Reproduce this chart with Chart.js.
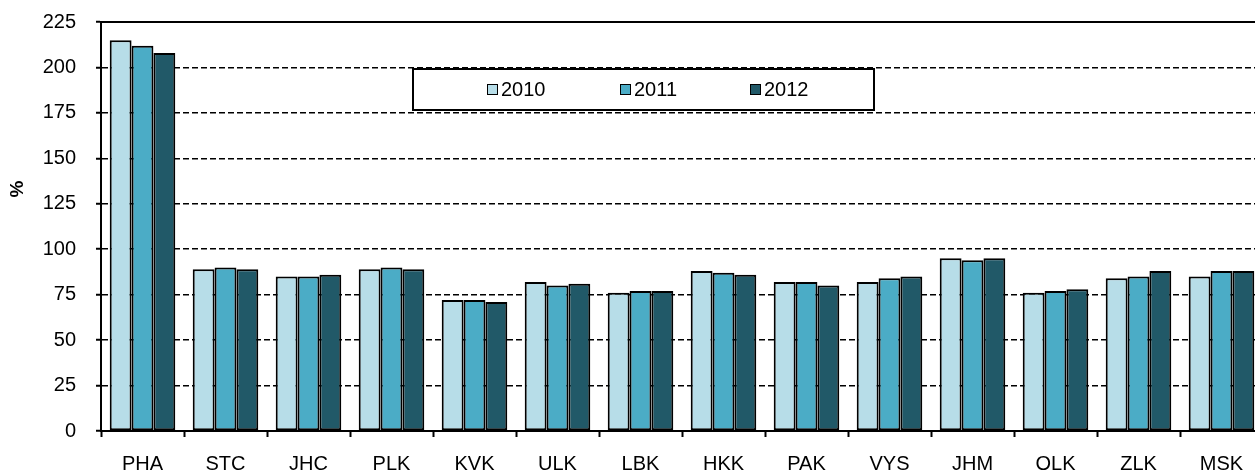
<!DOCTYPE html>
<html>
<head>
<meta charset="utf-8">
<script src="https://cdn.jsdelivr.net/npm/chart.js@4/dist/chart.umd.min.js"></script>
<style>
  html, body { margin: 0; padding: 0; background: #fff; overflow: hidden; }
  #wrap { position: relative; width: 1268px; height: 473px; overflow: hidden; }
  #c { position: absolute; left: 0; top: -10px; }
</style>
</head>
<body>
<div id="wrap"><canvas id="c" width="1268" height="483"></canvas></div>
<script>
const categories = ['PHA','STC','JHC','PLK','KVK','ULK','LBK','HKK','PAK','VYS','JHM','OLK','ZLK','MSK'];
const seriesNames = ['2010','2011','2012'];
const values2010 = [215, 89, 85, 89, 72, 82, 76, 88, 82, 82, 95, 76, 84, 85];
const values2011 = [212, 90, 85, 90, 72, 80, 77, 87, 82, 84, 94, 77, 85, 88];
const values2012 = [208, 89, 86, 89, 71, 81, 77, 86, 80, 85, 95, 78, 88, 88];
const yTicks = [0, 25, 50, 75, 100, 125, 150, 175, 200, 225];
const yTitle = '%';

const colors = ['#B7DDE8', '#4BACC6', '#215968'];
const FONT = "'Liberation Sans', Arial, sans-serif";
const DY = 10; // canvas is shifted up by this many pixels

const decorPlugin = {
  id: 'decor',
  afterDraw(chart) {
    const ctx = chart.ctx;
    const ca = chart.chartArea;
    ctx.save();
    const yTop = chart.scales.y.getPixelForValue(yTicks[yTicks.length - 1]);
    ctx.strokeStyle = '#000';
    ctx.lineWidth = 2;
    ctx.setLineDash([]);
    ctx.beginPath();
    ctx.moveTo(ca.left, yTop);
    ctx.lineTo(ca.right, yTop);
    ctx.stroke();

    ctx.fillStyle = '#000';
    ctx.font = "bold 19px " + FONT;
    ctx.translate(18, 189 + DY);
    ctx.rotate(-Math.PI / 2);
    ctx.textAlign = 'center';
    ctx.textBaseline = 'middle';
    ctx.fillText(yTitle, 0, 0);
    ctx.restore();

    ctx.save();
    const bx = 413, by = 69 + DY, bw = 461, bh = 41;
    ctx.fillStyle = '#fff';
    ctx.fillRect(bx, by, bw, bh);
    ctx.strokeStyle = '#000';
    ctx.lineWidth = 2;
    ctx.strokeRect(bx, by, bw, bh);
    ctx.font = "20px " + FONT;
    ctx.textBaseline = 'middle';
    ctx.textAlign = 'left';
    const starts = [487, 620, 750];
    chart.data.datasets.forEach((ds, i) => {
      const sx = starts[i];
      ctx.fillStyle = ds.backgroundColor;
      ctx.fillRect(sx, 84 + DY, 10, 10);
      ctx.lineWidth = 1;
      ctx.strokeStyle = '#000';
      ctx.strokeRect(sx + 0.5, 84.5 + DY, 10, 10);
      ctx.fillStyle = '#000';
      ctx.fillText(ds.label, sx + 14, 90 + DY);
    });
    ctx.restore();
  }
};

new Chart(document.getElementById('c'), {
  type: 'bar',
  data: {
    labels: categories,
    datasets: [
      { label: seriesNames[0], data: values2010, backgroundColor: colors[0] },
      { label: seriesNames[1], data: values2011, backgroundColor: colors[1] },
      { label: seriesNames[2], data: values2012, backgroundColor: colors[2] }
    ].map(d => Object.assign(d, {
      borderColor: '#000', borderWidth: 2, borderSkipped: false,
      categoryPercentage: 0.79, barPercentage: 1.0
    }))
  },
  options: {
    responsive: false,
    animation: false,
    devicePixelRatio: 1,
    layout: { padding: { top: 21, right: 5, left: 0, bottom: 0 } },
    plugins: { legend: { display: false }, tooltip: { enabled: false } },
    scales: {
      x: {
        offset: true,
        grid: {
          display: true, drawOnChartArea: false, drawTicks: true, offset: true,
          tickLength: 6, tickColor: '#000', tickWidth: 2, color: '#000'
        },
        border: { display: true, color: '#000', width: 2 },
        ticks: { color: '#000', font: { family: FONT, size: 20 }, padding: 15, maxRotation: 0, autoSkip: false },
        afterFit(s) { s.height = 42; }
      },
      y: {
        min: 0, max: 225,
        afterBuildTicks(s) { s.ticks = yTicks.map(v => ({ value: v })); },
        grid: {
          color: '#000', lineWidth: 1.5, drawTicks: true, tickLength: 5,
          tickColor: '#000', tickWidth: 2, tickBorderDash: [], tickBorderDashOffset: 0
        },
        border: { display: true, color: '#000', width: 2, dash: [6, 3] },
        ticks: { color: '#000', font: { family: FONT, size: 20 }, padding: 20 },
        afterFit(s) { s.width = 101; }
      }
    }
  },
  plugins: [decorPlugin]
});
</script>
</body>
</html>
